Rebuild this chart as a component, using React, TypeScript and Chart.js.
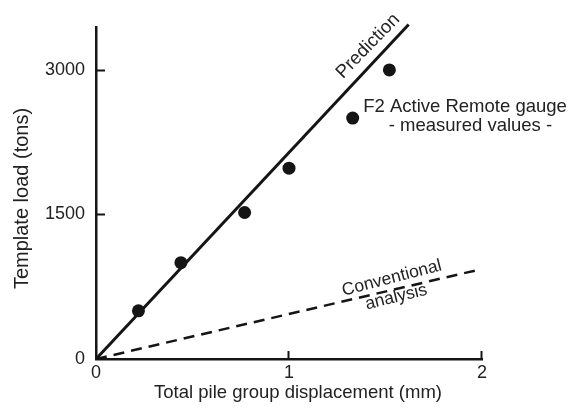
import React, { useEffect, useRef } from "react";
import { Chart, registerables } from "chart.js";

Chart.register(...registerables);

// ---- data ----
const measuredX = [0.22, 0.44, 0.77, 1.0, 1.33, 1.52];
const measuredY = [500, 1000, 1520, 1980, 2500, 3000];
const predictionX = [0, 1.62];
const predictionY = [0, 3470];
const conventionalX = [0, 1.97];
const conventionalY = [0, 920];
const xTicks = [0, 1, 2];
const yTicks = [0, 1500, 3000];
const xLabel = "Total pile group displacement (mm)";
const yLabel = "Template load (tons)";
const predictionLabel = "Prediction";
const conventionalLabel = ["Conventional", "analysis"];
const measuredLabel = ["F2 Active Remote gauge", "- measured values -"];

const FONT = "'Liberation Sans', Arial, Helvetica, sans-serif";
const INK = "#151515";
const TEXT = "#222222";

const annotationPlugin = {
  id: "annotations",
  afterDraw(chart: any) {
    const { ctx, chartArea } = chart;
    const xs = chart.scales.x;
    const ys = chart.scales.y;
    ctx.save();

    // inside tick marks
    ctx.strokeStyle = INK;
    ctx.lineWidth = 2;
    yTicks.forEach((v) => {
      if (v === 0) return;
      const py = Math.round(ys.getPixelForValue(v)) + 0.5;
      ctx.beginPath();
      ctx.moveTo(chartArea.left, py);
      ctx.lineTo(chartArea.left + 9, py);
      ctx.stroke();
    });
    xTicks.forEach((v) => {
      if (v === 0) return;
      const px = Math.round(xs.getPixelForValue(v)) - 0.5;
      ctx.beginPath();
      ctx.moveTo(px, chartArea.bottom);
      ctx.lineTo(px, chartArea.bottom - 8);
      ctx.stroke();
    });

    ctx.fillStyle = TEXT;

    // rotated label along a line
    const lineLabel = (
      lx: number[],
      ly: number[],
      at: number,
      offset: number,
      text: string,
      size: number,
      extraRot: number
    ) => {
      const x0 = xs.getPixelForValue(lx[0]);
      const y0 = ys.getPixelForValue(ly[0]);
      const x1 = xs.getPixelForValue(lx[1]);
      const y1 = ys.getPixelForValue(ly[1]);
      const ang = Math.atan2(y1 - y0, x1 - x0);
      const len = Math.hypot(x1 - x0, y1 - y0);
      const dx = (x1 - x0) / len;
      const dy = (y1 - y0) / len;
      const t = (at - lx[0]) / (lx[1] - lx[0]);
      const px = x0 + (x1 - x0) * t + dy * offset;
      const py = y0 + (y1 - y0) * t - dx * offset;
      ctx.save();
      ctx.translate(px, py);
      ctx.rotate(ang + extraRot);
      ctx.font = `${size}px ${FONT}`;
      ctx.textAlign = "center";
      ctx.textBaseline = "middle";
      ctx.fillText(text, 0, 0);
      ctx.restore();
    };

    lineLabel(predictionX, predictionY, 1.466, 15, predictionLabel, 18.5, 0.02);
    lineLabel(conventionalX, conventionalY, 1.546, 11.5, conventionalLabel[0], 17.5, -0.025);
    lineLabel(conventionalX, conventionalY, 1.546, -8, conventionalLabel[1], 17.5, -0.01);

    // measured values label
    ctx.font = `18.5px ${FONT}`;
    ctx.textAlign = "center";
    ctx.textBaseline = "alphabetic";
    ctx.fillText(measuredLabel[0], xs.getPixelForValue(1.912), ys.getPixelForValue(2568));
    ctx.fillText(measuredLabel[1], xs.getPixelForValue(1.94), ys.getPixelForValue(2366));

    // axis titles
    ctx.font = `18.5px ${FONT}`;
    ctx.textAlign = "center";
    ctx.textBaseline = "alphabetic";
    ctx.fillText(xLabel, (chartArea.left + chartArea.right) / 2 + 9, chartArea.bottom + 39);

    ctx.save();
    ctx.translate(chartArea.left - 74, (chartArea.top + chartArea.bottom) / 2 + 5.5);
    ctx.rotate(-Math.PI / 2);
    ctx.font = `20px ${FONT}`;
    ctx.textBaseline = "middle";
    ctx.fillText(yLabel, 0, 0);
    ctx.restore();

    ctx.restore();
  },
};

export default function App() {
  const canvasRef = useRef<HTMLCanvasElement | null>(null);

  useEffect(() => {
    document.body.style.margin = "0";
    const canvas = canvasRef.current;
    if (!canvas) return;

    const chart = new Chart(canvas, {
      type: "scatter",
      data: {
        datasets: [
          {
            label: "measured",
            data: measuredX.map((x, i) => ({ x, y: measuredY[i] })),
            pointRadius: 6.5,
            pointHoverRadius: 6.5,
            pointBackgroundColor: INK,
            pointBorderColor: INK,
            pointBorderWidth: 0,
            showLine: false,
          },
          {
            label: "prediction",
            data: predictionX.map((x, i) => ({ x, y: predictionY[i] })),
            showLine: true,
            borderColor: INK,
            borderWidth: 3,
            pointRadius: 0,
            clip: false,
          } as any,
          {
            label: "conventional",
            data: conventionalX.map((x, i) => ({ x, y: conventionalY[i] })),
            showLine: true,
            borderColor: INK,
            borderWidth: 2.5,
            borderDash: [11, 7],
            pointRadius: 0,
          },
        ],
      },
      options: {
        responsive: false,
        animation: false,
        devicePixelRatio: 1,
        layout: { padding: { top: 27, right: 90, bottom: 0, left: 0 } },
        plugins: {
          legend: { display: false },
          tooltip: { enabled: false },
        },
        scales: {
          x: {
            type: "linear",
            min: 0,
            max: 2,
            afterBuildTicks: (s: any) => {
              s.ticks = xTicks.map((v) => ({ value: v }));
            },
            afterFit: (s: any) => {
              s.height = 50;
            },
            grid: { display: false, drawTicks: false },
            border: { display: true, color: INK, width: 2.5 },
            ticks: {
              font: { family: FONT, size: 18 },
              color: TEXT,
              padding: 3,
              maxRotation: 0,
              autoSkip: false,
              callback: (v: any) => String(v),
            },
          },
          y: {
            type: "linear",
            min: 0,
            max: 3445,
            afterBuildTicks: (s: any) => {
              s.ticks = yTicks.map((v) => ({ value: v }));
            },
            afterFit: (s: any) => {
              s.width = 96;
            },
            grid: { display: false, drawTicks: false },
            border: { display: true, color: INK, width: 2.5 },
            ticks: {
              font: { family: FONT, size: 18 },
              color: TEXT,
              padding: 11,
              autoSkip: false,
              callback: (v: any) => String(v),
            },
          },
        },
      },
      plugins: [annotationPlugin],
    });

    return () => chart.destroy();
  }, []);

  return (
    <div style={{ width: 572, height: 409, background: "#ffffff" }}>
      <canvas ref={canvasRef} width={572} height={409} style={{ display: "block" }} />
    </div>
  );
}
